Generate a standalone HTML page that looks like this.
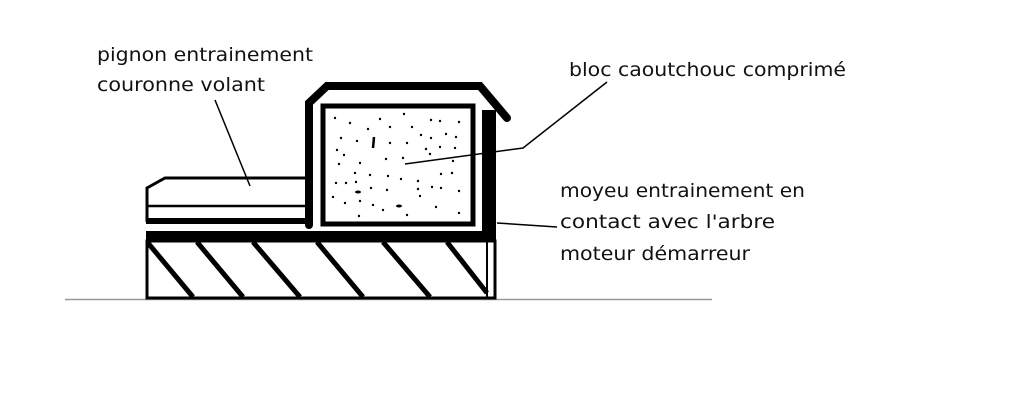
<!DOCTYPE html>
<html><head><meta charset="utf-8"><style>
html,body{margin:0;padding:0;background:#fff;}
svg{display:block}
text{font-family:"DejaVu Sans","Liberation Sans",sans-serif;font-size:19px;fill:#111}
</style></head><body>
<svg width="1024" height="417" viewBox="0 0 1024 417" xmlns="http://www.w3.org/2000/svg">
<rect width="1024" height="417" fill="#fff"/>
<line x1="65" y1="299.5" x2="712" y2="299.5" stroke="#999" stroke-width="1.5"/>
<rect x="147" y="241" width="348" height="57" fill="none" stroke="#000" stroke-width="3"/>
<line x1="487" y1="241" x2="487" y2="298" stroke="#000" stroke-width="2"/>
<g stroke="#000" stroke-width="5">
<line x1="148" y1="243" x2="193" y2="297"/>
<line x1="197" y1="242" x2="243" y2="297"/>
<line x1="253" y1="242" x2="300" y2="297"/>
<line x1="317" y1="242" x2="363" y2="297"/>
<line x1="383" y1="242" x2="430" y2="297"/>
<line x1="447" y1="242" x2="487" y2="293"/>
</g>
<rect x="146" y="231" width="350" height="10" fill="#000"/>
<rect x="482" y="110" width="14" height="126" fill="#000"/>
<polyline points="312,178 165,178 147,188 147,222" fill="none" stroke="#000" stroke-width="3"/>
<line x1="147" y1="206" x2="310" y2="206" stroke="#000" stroke-width="2.5"/>
<rect x="146" y="218" width="165" height="6" fill="#000"/>
<polyline points="309,225 309,103 327,86 480,86 507,118" fill="none" stroke="#000" stroke-width="8" stroke-linejoin="miter" stroke-linecap="round"/>
<rect x="323" y="106" width="150" height="118" fill="none" stroke="#000" stroke-width="5"/>
<g fill="#000">
<circle cx="335" cy="118" r="1.2"/><circle cx="350" cy="123" r="1.2"/><circle cx="380" cy="119" r="1.2"/><circle cx="404" cy="114" r="1.2"/><circle cx="431" cy="120" r="1.2"/><circle cx="440" cy="121" r="1.2"/><circle cx="459" cy="122" r="1.2"/>
<circle cx="368" cy="129" r="1.2"/><circle cx="390" cy="127" r="1.2"/><circle cx="412" cy="127" r="1.2"/><circle cx="341" cy="138" r="1.2"/><circle cx="357" cy="141" r="1.2"/><circle cx="390" cy="143" r="1.2"/><circle cx="407" cy="143" r="1.2"/><circle cx="421" cy="135" r="1.2"/><circle cx="431" cy="138" r="1.2"/><circle cx="446" cy="134" r="1.2"/><circle cx="456" cy="137" r="1.2"/>
<circle cx="337" cy="150" r="1.2"/><circle cx="344" cy="155" r="1.2"/><circle cx="426" cy="149" r="1.2"/><circle cx="440" cy="147" r="1.2"/><circle cx="455" cy="148" r="1.2"/><circle cx="339" cy="164" r="1.2"/><circle cx="360" cy="163" r="1.2"/><circle cx="386" cy="159" r="1.2"/><circle cx="403" cy="158" r="1.2"/><circle cx="430" cy="154" r="1.2"/><circle cx="453" cy="161" r="1.2"/>
<circle cx="355" cy="173" r="1.2"/><circle cx="370" cy="175" r="1.2"/><circle cx="388" cy="176" r="1.2"/><circle cx="401" cy="179" r="1.2"/><circle cx="418" cy="181" r="1.2"/><circle cx="441" cy="174" r="1.2"/><circle cx="452" cy="173" r="1.2"/>
<circle cx="336" cy="183" r="1.2"/><circle cx="346" cy="183" r="1.2"/><circle cx="356" cy="182" r="1.2"/><circle cx="371" cy="188" r="1.2"/><circle cx="387" cy="190" r="1.2"/><circle cx="418" cy="189" r="1.2"/><circle cx="432" cy="187" r="1.2"/><circle cx="441" cy="188" r="1.2"/><circle cx="459" cy="191" r="1.2"/>
<circle cx="333" cy="197" r="1.2"/><circle cx="345" cy="203" r="1.2"/><circle cx="360" cy="201" r="1.2"/><circle cx="373" cy="205" r="1.2"/><circle cx="383" cy="210" r="1.2"/><circle cx="420" cy="196" r="1.2"/><circle cx="436" cy="207" r="1.2"/><circle cx="459" cy="213" r="1.2"/><circle cx="359" cy="216" r="1.2"/><circle cx="407" cy="215" r="1.2"/>
<ellipse cx="358" cy="192" rx="3" ry="1.5"/><ellipse cx="399" cy="206" rx="3" ry="1.5"/>
</g>
<line x1="374" y1="137" x2="373" y2="148" stroke="#000" stroke-width="2.5"/>
<g stroke="#000" stroke-width="1.5" fill="none">
<line x1="215" y1="100" x2="250" y2="186"/>
<polyline points="405,164 523,148 607,82"/>
<line x1="497" y1="223" x2="557" y2="227"/>
</g>
<text x="97" y="61" textLength="216" lengthAdjust="spacingAndGlyphs">pignon entrainement</text>
<text x="97" y="91" textLength="168" lengthAdjust="spacingAndGlyphs">couronne volant</text>
<text x="569" y="76" textLength="277" lengthAdjust="spacingAndGlyphs">bloc caoutchouc comprimé</text>
<text x="560" y="197" textLength="245" lengthAdjust="spacingAndGlyphs">moyeu entrainement en</text>
<text x="560" y="228" textLength="215" lengthAdjust="spacingAndGlyphs">contact avec l'arbre</text>
<text x="560" y="260" textLength="190" lengthAdjust="spacingAndGlyphs">moteur démarreur</text>
</svg>
</body></html>
